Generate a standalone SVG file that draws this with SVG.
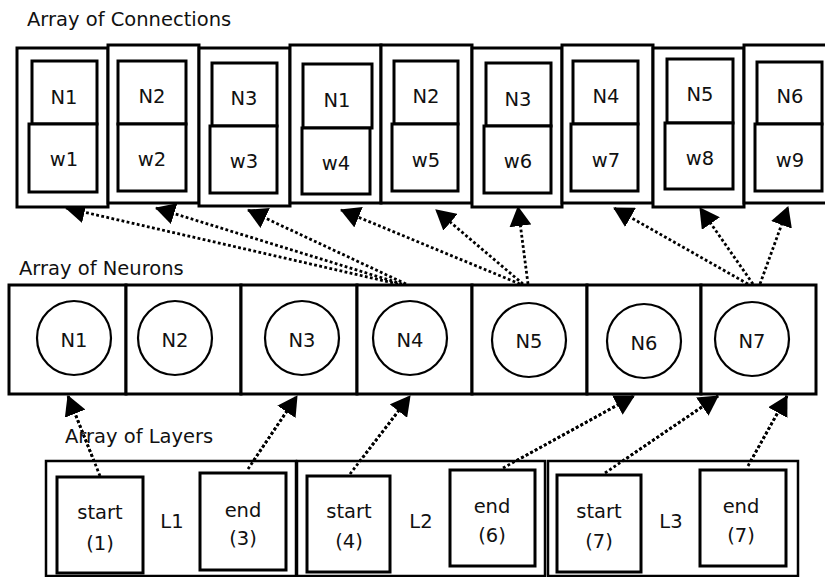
<svg xmlns="http://www.w3.org/2000/svg" width="825" height="577" viewBox="0 0 825 577">
<style>
.box{fill:#fff;stroke:#000;stroke-width:3}
.outer{fill:#fff;stroke:#000;stroke-width:3}
.lay{fill:#fff;stroke:#000;stroke-width:2.5}
.circ{fill:#fff;stroke:#000;stroke-width:2.2}
.conn{fill:none;stroke:#000;stroke-width:2.8;stroke-dasharray:2.8 2.4;marker-end:url(#ah)}
text{font-family:"DejaVu Sans",Verdana,sans-serif;font-size:19.5px;fill:#111}
.c{text-anchor:middle}
</style>
<defs>
<marker id="ah" viewBox="0 0 20 22" refX="19" refY="11" markerWidth="20" markerHeight="22" markerUnits="userSpaceOnUse" orient="auto">
<path d="M0,0 L20,11 L0,22 z" fill="#000"/>
</marker>
</defs>
<rect width="825" height="577" fill="#fff"/>

<g id="titles">
<text x="27" y="26">Array of Connections</text>
<text x="19" y="275">Array of Neurons</text>
</g>

<g id="connectors">
<line class="conn" x1="398" y1="284" x2="66" y2="208"/>
<line class="conn" x1="402" y1="284" x2="156" y2="208"/>
<line class="conn" x1="406" y1="284" x2="248" y2="210"/>
<line class="conn" x1="520" y1="284" x2="341" y2="210"/>
<line class="conn" x1="523" y1="284" x2="436" y2="210"/>
<line class="conn" x1="528" y1="284" x2="518" y2="207"/>
<line class="conn" x1="748" y1="284" x2="614" y2="208"/>
<line class="conn" x1="753" y1="284" x2="700" y2="208"/>
<line class="conn" x1="760" y1="284" x2="788" y2="207"/>
<line class="conn" x1="100" y1="476" x2="68" y2="396"/>
<line class="conn" x1="248" y1="469" x2="297" y2="396"/>
<line class="conn" x1="350" y1="474" x2="410" y2="396"/>
<line class="conn" x1="503" y1="468" x2="634" y2="396"/>
<line class="conn" x1="605" y1="473" x2="718" y2="396"/>
<line class="conn" x1="748" y1="466" x2="787" y2="396"/>
</g>

<g id="c1"><rect class="outer" x="17" y="48" width="91" height="159"/><rect class="box" x="32" y="61" width="65" height="63"/><rect class="box" x="29" y="124" width="68" height="68"/><text class="c" x="64" y="104">N1</text><text class="c" x="64" y="166">w1</text></g>
<g id="c2"><rect class="outer" x="108" y="45" width="91" height="158"/><rect class="box" x="118" y="61" width="68" height="63"/><rect class="box" x="118" y="124" width="68" height="67"/><text class="c" x="152" y="103">N2</text><text class="c" x="152" y="166">w2</text></g>
<g id="c3"><rect class="outer" x="199" y="48" width="91" height="158"/><rect class="box" x="212" y="63" width="65" height="63"/><rect class="box" x="210" y="126" width="67" height="67"/><text class="c" x="244" y="105">N3</text><text class="c" x="244" y="168">w3</text></g>
<g id="c4"><rect class="outer" x="290" y="45" width="91" height="158"/><rect class="box" x="303" y="64" width="69" height="64"/><rect class="box" x="302" y="128" width="68" height="66"/><text class="c" x="337" y="107">N1</text><text class="c" x="336" y="170">w4</text></g>
<g id="c5"><rect class="outer" x="381" y="45" width="91" height="158"/><rect class="box" x="394" y="61" width="64" height="63"/><rect class="box" x="392" y="124" width="66" height="67"/><text class="c" x="426" y="103">N2</text><text class="c" x="426" y="167">w5</text></g>
<g id="c6"><rect class="outer" x="472" y="48" width="90" height="159"/><rect class="box" x="486" y="63" width="65" height="63"/><rect class="box" x="484" y="126" width="67" height="67"/><text class="c" x="518" y="106">N3</text><text class="c" x="518" y="168">w6</text></g>
<g id="c7"><rect class="outer" x="562" y="45" width="91" height="158"/><rect class="box" x="573" y="61" width="65" height="63"/><rect class="box" x="571" y="124" width="67" height="67"/><text class="c" x="606" y="103">N4</text><text class="c" x="606" y="167">w7</text></g>
<g id="c8"><rect class="outer" x="653" y="48" width="91" height="159"/><rect class="box" x="667" y="59" width="66" height="64"/><rect class="box" x="665" y="123" width="68" height="66"/><text class="c" x="700" y="101">N5</text><text class="c" x="700" y="165">w8</text></g>
<g id="c9"><rect class="outer" x="744" y="45" width="95" height="158"/><rect class="box" x="757" y="62" width="65" height="62"/><rect class="box" x="755" y="124" width="67" height="67"/><text class="c" x="790" y="103">N6</text><text class="c" x="790" y="167">w9</text></g>

<g id="n1"><rect class="outer" x="9" y="285" width="117" height="109"/><circle class="circ" cx="74" cy="338" r="37"/><text class="c" x="74" y="347">N1</text></g>
<g id="n2"><rect class="outer" x="126" y="285" width="115" height="109"/><circle class="circ" cx="175" cy="338" r="37"/><text class="c" x="175" y="347">N2</text></g>
<g id="n3"><rect class="outer" x="241" y="285" width="116" height="109"/><circle class="circ" cx="302" cy="338" r="37"/><text class="c" x="302" y="347">N3</text></g>
<g id="n4"><rect class="outer" x="357" y="285" width="115" height="109"/><circle class="circ" cx="410" cy="338" r="37"/><text class="c" x="410" y="347">N4</text></g>
<g id="n5"><rect class="outer" x="472" y="285" width="115" height="109"/><circle class="circ" cx="529" cy="340" r="37"/><text class="c" x="529" y="348">N5</text></g>
<g id="n6"><rect class="outer" x="587" y="285" width="114" height="109"/><circle class="circ" cx="644" cy="341" r="37"/><text class="c" x="644" y="350">N6</text></g>
<g id="n7"><rect class="outer" x="701" y="285" width="115" height="109"/><circle class="circ" cx="752" cy="339" r="37"/><text class="c" x="752" y="348">N7</text></g>

<g id="L1"><rect class="lay" x="46" y="461" width="250" height="115"/>
<rect class="box" x="57" y="477" width="86" height="96"/><text class="c" x="100" y="519">start</text><text class="c" x="100" y="550">(1)</text>
<text class="c" x="172" y="528">L1</text>
<rect class="box" x="200" y="473" width="86" height="97"/><text class="c" x="243" y="517">end</text><text class="c" x="243" y="545">(3)</text></g>
<g id="L2"><rect class="lay" x="297" y="461" width="248" height="115"/>
<rect class="box" x="307" y="476" width="83" height="96"/><text class="c" x="349" y="518">start</text><text class="c" x="349" y="548">(4)</text>
<text class="c" x="421" y="528">L2</text>
<rect class="box" x="450" y="470" width="85" height="96"/><text class="c" x="492" y="513">end</text><text class="c" x="492" y="542">(6)</text></g>
<g id="L3"><rect class="lay" x="548" y="461" width="250" height="115"/>
<rect class="box" x="557" y="475" width="84" height="97"/><text class="c" x="599" y="518">start</text><text class="c" x="599" y="548">(7)</text>
<text class="c" x="671" y="528">L3</text>
<rect class="box" x="700" y="470" width="86" height="96"/><text class="c" x="741" y="513">end</text><text class="c" x="741" y="542">(7)</text></g>

<g id="connectors-tail">
<line class="conn" x1="100" y1="476" x2="68" y2="396" style="marker-end:none"/>
<line class="conn" x1="248" y1="469" x2="297" y2="396" style="marker-end:none"/>
<line class="conn" x1="350" y1="474" x2="410" y2="396" style="marker-end:none"/>
<line class="conn" x1="503" y1="468" x2="634" y2="396" style="marker-end:none"/>
<line class="conn" x1="605" y1="473" x2="718" y2="396" style="marker-end:none"/>
<line class="conn" x1="748" y1="466" x2="787" y2="396" style="marker-end:none"/>
</g>
<text x="65" y="443">Array of Layers</text>
</svg>
